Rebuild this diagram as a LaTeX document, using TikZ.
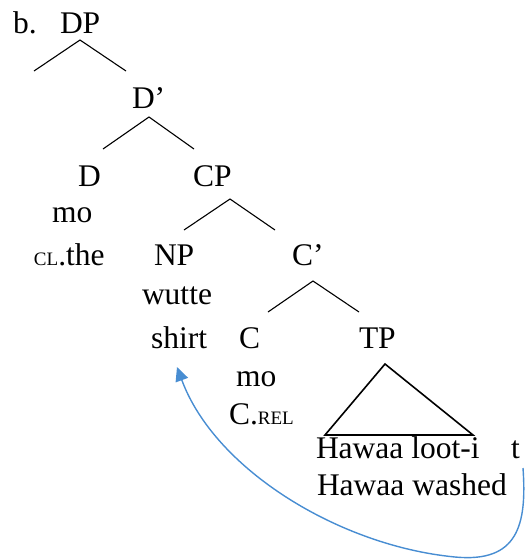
\documentclass[tikz,border=0pt]{standalone}
\usepackage{fontspec}
\setmainfont{Liberation Serif}
\usetikzlibrary{arrows.meta}
\definecolor{arrowblue}{RGB}{72,141,210}
\newcommand\fakesc[1]{{\fontsize{19}{22}\selectfont #1}}
\begin{document}
\begin{tikzpicture}[x=1pt,y=-1pt,
  lbl/.style={anchor=base west, inner sep=0pt, outer sep=0pt, font=\fontsize{31.5}{37}\selectfont},
  branch/.style={draw=black, line width=1.1pt},
  tri/.style={draw=black, line width=1.6pt, line join=miter},
  move/.style={draw=arrowblue, line width=1.4pt, -{Triangle[length=14pt,width=13pt]}}]
\useasboundingbox (0,0) rectangle (525,560);
% labels
\node[lbl] (b)  at (13,33) {b.};
\node[lbl] (DP) at (60,33) {DP};
\node[lbl] (Dbar) at (132,108) {D’};
\node[lbl] (D)  at (78,186) {D};
\node[lbl] (CP) at (193,186) {CP};
\node[lbl] (Dmo) at (52,222) {mo};
\node[lbl] (CLthe) at (34,265) {\fakesc{CL}.the};
\node[lbl] (NP) at (154,265) {NP};
\node[lbl] (Cbar) at (292,265) {C’};
\node[lbl] (wutte) at (142,304) {wutte};
\node[lbl] (shirt) at (151,348) {shirt};
\node[lbl] (C) at (239,348) {C};
\node[lbl] (TP) at (359,348) {TP};
\node[lbl] (Cmo) at (236,386) {mo};
\node[lbl] (Crel) at (229,424) {C.\fakesc{REL}};
\node[lbl] (loot) at (316,458) {Hawaa loot-i};
\node[lbl] (t) at (511,458) {t};
\node[lbl] (washed) at (317,495) {Hawaa washed};
% branch points
\coordinate (dpA) at (80,40);  \coordinate (dpL) at (34,71);  \coordinate (dpR) at (126,71);
\coordinate (dbA) at (149,117); \coordinate (dbL) at (103,149); \coordinate (dbR) at (194,149);
\coordinate (cpA) at (230,199); \coordinate (cpL) at (184,230); \coordinate (cpR) at (275,230);
\coordinate (cbA) at (313,281); \coordinate (cbL) at (268,312); \coordinate (cbR) at (359,312);
\coordinate (tpA) at (385,364); \coordinate (tpL) at (325,435); \coordinate (tpR) at (473,435);
\draw[branch] (dpL) -- (dpA) -- (dpR);
\draw[branch] (dbL) -- (dbA) -- (dbR);
\draw[branch] (cpL) -- (cpA) -- (cpR);
\draw[branch] (cbL) -- (cbA) -- (cbR);
\draw[tri] (tpA) -- (tpR) -- (tpL) -- cycle;
% movement arrow
\coordinate (mvS) at (523,468);
\coordinate (mvB) at (455,557);
\coordinate (mvE) at (177,367);
\draw[move] (mvS) .. controls (527,525) and (518,563) .. (mvB)
  .. controls (340,546) and (215,470) .. (mvE);
\end{tikzpicture}
\end{document}
